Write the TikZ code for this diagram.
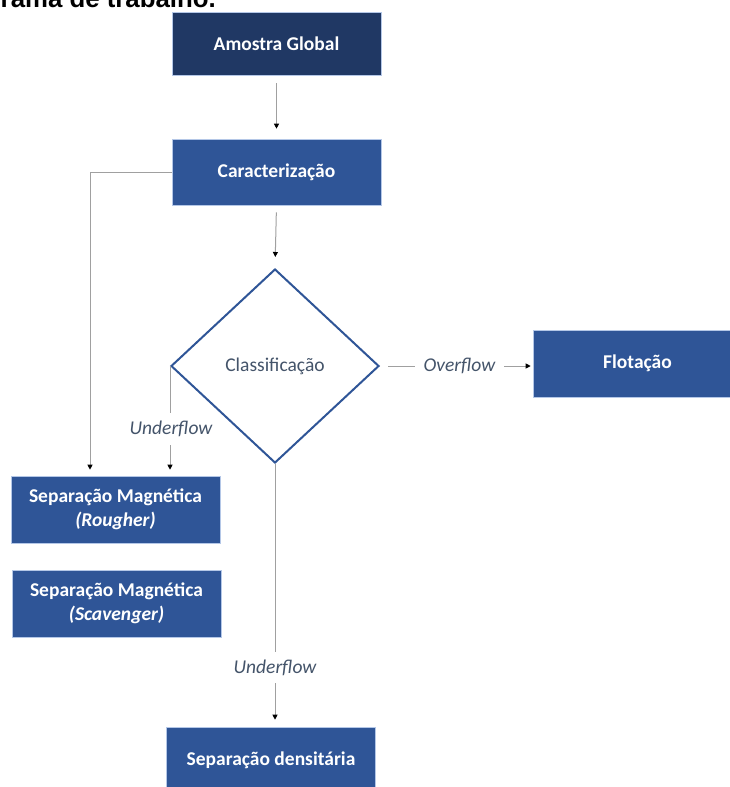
\documentclass[tikz,border=0pt]{standalone}
\usepackage{fontspec}
\setmainfont{Carlito}
\newfontfamily\titlefont{Liberation Sans}
\usetikzlibrary{arrows.meta,shapes.geometric}
\definecolor{navy}{HTML}{203864}
\definecolor{boxblue}{HTML}{2F5597}
\definecolor{txtgray}{HTML}{44546A}
\definecolor{linegray}{HTML}{A0A0A0}
\definecolor{edgeblue}{HTML}{B4C7E7}
\begin{document}
\begin{tikzpicture}[x=1pt,y=-1pt,
  box/.style={rectangle, fill=boxblue, draw=edgeblue, line width=0.6pt,
    minimum width=209pt, minimum height=66pt, inner sep=0pt, text=white,
    font=\fontsize{19.5}{24}\selectfont\bfseries, align=center},
  conn/.style={draw=linegray, line width=1pt, -{Triangle[length=5pt,width=5pt,black]}},
  lab/.style={fill=white, text=txtgray, font=\fontsize{19.5}{23}\selectfont\itshape,
    inner xsep=4pt, inner ysep=0pt, minimum height=32pt}]
\useasboundingbox (0,0) rectangle (729,787);

\node[font=\titlefont\bfseries\fontsize{25.8}{30}\selectfont, anchor=base east, inner sep=0pt] (title) at (216,8) {Fluxograma de trabalho.};

\node[box, fill=navy, minimum height=63pt] (amostra) at (276.5,43.5) {Amostra Global};
\node[box] (caract) at (276.5,172) {Caracterização};
\node[diamond, draw=boxblue, line width=2pt, fill=white, minimum width=208pt,
  minimum height=194pt, inner sep=0pt, text=txtgray,
  font=\fontsize{19.5}{23}\selectfont] (cls) at (275,366) {Classificação};
\node[box, minimum height=67pt] (flot) at (637.5,363.5) {Flotação};
\node[box, minimum height=67pt] (rough) at (115.5,509.5) {Separação Magnética\\\textit{(Rougher)}};
\node[box, minimum height=67pt] (scav) at (116.5,603.5) {Separação Magnética\\\textit{(Scavenger)}};
\node[box] (dens) at (271,760) {Separação densitária};

\coordinate (lx) at (90,0);

\draw[conn, shorten <=8pt, shorten >=10pt] (amostra.south) -- (caract.north);
\draw[conn, shorten <=7pt, shorten >=11pt] (caract.south) -- (cls.north);
\draw[conn, shorten >=6pt] (caract.west) -| (lx |- rough.north);
\draw[conn, shorten >=6pt] (cls.west) -- (cls.west |- rough.north);
\draw[conn, shorten <=8pt, shorten >=2pt] (cls.east) -- (cls.east -| flot.west);
\draw[conn, shorten >=7pt] (cls.south) -- (cls.south |- dens.north);

\node[lab] (ulab1) at (171,429) {Underflow};
\node[lab, minimum width=89pt] (olab) at (459.5,366) {Overflow};
\node[lab, minimum height=31pt] (ulab2) at (275,667.5) {Underflow};
\end{tikzpicture}
\end{document}
